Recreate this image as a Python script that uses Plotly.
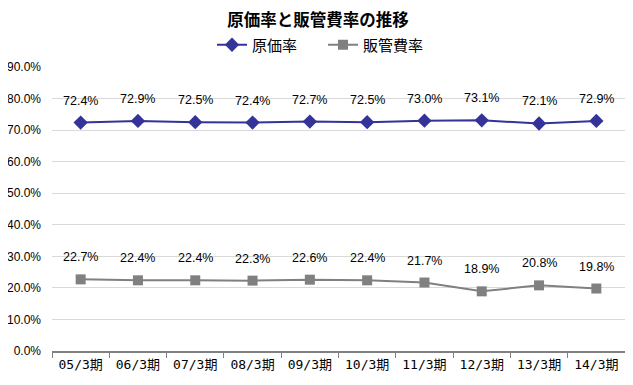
import plotly.graph_objects as go

categories = ["05/3期", "06/3期", "07/3期", "08/3期", "09/3期", "10/3期", "11/3期", "12/3期", "13/3期", "14/3期"]
cost_ratio = [72.4, 72.9, 72.5, 72.4, 72.7, 72.5, 73.0, 73.1, 72.1, 72.9]
sga_ratio = [22.7, 22.4, 22.4, 22.3, 22.6, 22.4, 21.7, 18.9, 20.8, 19.8]
y_ticks = [0, 10, 20, 30, 40, 50, 60, 70, 80, 90]
y_tick_labels = [f"{v:.1f}%" for v in y_ticks]

font_family = "Liberation Sans, Noto Sans CJK JP, sans-serif"
mono_family = "DejaVu Sans Mono, Noto Sans CJK JP, monospace"

# page body has an 8px default margin, so the figure is sized to fit inside the window
W, H = 625, 377

fig = go.Figure()
fig.add_trace(go.Scatter(
    x=categories, y=cost_ratio, name="原価率",
    mode="lines+markers",
    line=dict(color="#333399", width=2),
    marker=dict(symbol="diamond", size=11, color="#333399"),
))
fig.add_trace(go.Scatter(
    x=categories, y=sga_ratio, name="販管費率",
    mode="lines+markers",
    line=dict(color="#808080", width=2),
    marker=dict(symbol="square", size=10, color="#808080"),
))

annotations = []
for series in (cost_ratio, sga_ratio):
    for c, v in zip(categories, series):
        annotations.append(dict(
            x=c, y=v, xref="x", yref="y", text=f"{v:.1f}%", showarrow=False,
            yshift=22, font=dict(size=12.5, color="#000000", family=font_family),
        ))

fig.update_layout(
    width=W, height=H,
    margin=dict(l=44, r=8, t=59, b=34, autoexpand=False),
    paper_bgcolor="white", plot_bgcolor="white",
    font=dict(family=font_family, size=12, color="#000000"),
    title=dict(text="<b>原価率と販管費率の推移</b>", x=310 / W, xanchor="center", xref="container",
               y=1 - 12 / H, yanchor="middle", yref="container", pad=dict(t=0, b=0, l=0, r=0),
               font=dict(size=16.5, family="Noto Sans CJK JP, sans-serif", color="#000000")),
    legend=dict(orientation="h", x=315 / W, xanchor="center", xref="container",
                y=1 - 37 / H, yref="container", entrywidth=66,
                yanchor="middle", font=dict(size=15, family="Noto Sans CJK JP, sans-serif"),
                traceorder="normal", itemsizing="trace"),
    showlegend=True,
    annotations=annotations,
)
fig.update_xaxes(
    type="category", showgrid=False, showline=True, linecolor="#808080", linewidth=2,
    ticks="outside", ticklen=5, tickcolor="#808080", tickwidth=1,
    tickson="boundaries", tickfont=dict(size=13, family=mono_family),
    range=[-0.5, len(categories) - 0.5], automargin=False,
)
fig.update_yaxes(
    range=[0, 90], tickvals=y_ticks, ticktext=y_tick_labels,
    showgrid=True, gridcolor="#d9d9d9", gridwidth=1, zeroline=False,
    showline=False, ticks="", ticklabelstandoff=10, tickfont=dict(size=12, family=font_family),
    automargin=False,
)

fig.write_html("out.html")
